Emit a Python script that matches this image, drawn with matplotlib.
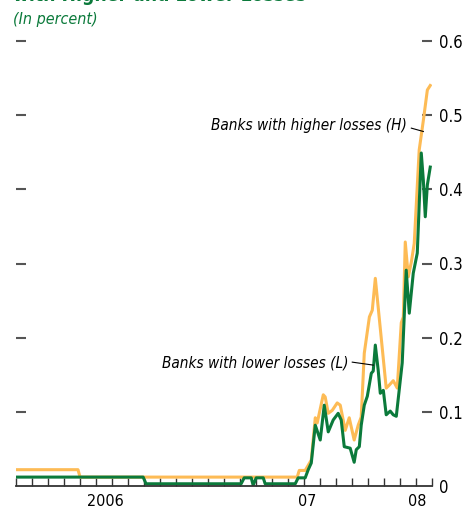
import matplotlib
matplotlib.use("Agg")
import matplotlib.pyplot as plt

plt.rcParams['font.family'] = ['DejaVu Sans']
plt.rcParams['font.stretch'] = 'condensed'

# x is in tick units (one minor tick per step), y in percent
high_x = [0, 3.89, 4.02, 17.58, 17.71, 18.08, 18.27, 18.46, 18.71, 18.83, 19.21, 19.33,
          19.52, 19.77, 20.08, 20.27, 20.58, 20.83, 21.14, 21.39, 21.58, 21.77, 22.09,
          22.27, 22.46, 23.14, 23.33, 23.58, 23.83, 24.08, 24.21, 24.33, 24.52, 24.71,
          24.89, 25.2, 25.46, 25.71, 25.89]
high_y = [0.022, 0.022, 0.012, 0.012, 0.021, 0.021, 0.028, 0.035, 0.092, 0.085, 0.123, 0.120,
          0.098, 0.102, 0.112, 0.109, 0.075, 0.092, 0.062, 0.082, 0.093, 0.179, 0.228,
          0.237, 0.280, 0.132, 0.136, 0.142, 0.132, 0.220, 0.228, 0.329, 0.282, 0.302,
          0.327, 0.453, 0.493, 0.534, 0.540]

low_x = [0, 7.96, 8.14, 14.08, 14.27, 14.71, 14.83, 15.02, 15.46, 15.58, 17.46, 17.64,
         18.08, 18.27, 18.46, 18.71, 19.02, 19.27, 19.52, 19.83, 20.14, 20.33, 20.52,
         20.89, 21.14, 21.27, 21.46, 21.58, 21.77, 21.96, 22.21, 22.33, 22.46, 22.64,
         22.77, 22.96, 23.14, 23.39, 23.58, 23.77, 24.14, 24.39, 24.58, 24.83, 25.08,
         25.33, 25.46, 25.58, 25.71, 25.89]
low_y = [0.012, 0.012, 0.003, 0.003, 0.011, 0.011, 0.001, 0.011, 0.011, 0.003, 0.003, 0.011,
         0.011, 0.022, 0.031, 0.082, 0.062, 0.109, 0.073, 0.089, 0.098, 0.089, 0.053,
         0.051, 0.032, 0.049, 0.053, 0.082, 0.109, 0.121, 0.152, 0.155, 0.190, 0.156,
         0.125, 0.129, 0.096, 0.101, 0.096, 0.094, 0.166, 0.291, 0.233, 0.287, 0.314,
         0.449, 0.412, 0.363, 0.406, 0.430]

year_pos = [5.58, 18.21, 25.08]
year_labels = ["2006", "07", "08"]
y_ticks = [0, 0.1, 0.2, 0.3, 0.4, 0.5, 0.6]

orange = "#FDBB55"
green = "#0B7A3B"
tick_grey = "#555555"

fig = plt.figure(figsize=(4.63, 5.13), dpi=100)
ax = fig.add_axes([15.7 / 463, 27 / 513, (432 - 15.7) / 463, 445 / 513])

ax.plot(high_x, high_y, color=orange, lw=2.2, solid_joinstyle='round')
ax.plot(low_x, low_y, color=green, lw=2.2, solid_joinstyle='round')

ax.set_xlim(0, 26)
ax.set_ylim(0, 0.6)

for s in ['left', 'right', 'top']:
    ax.spines[s].set_visible(False)
ax.spines['bottom'].set_color("#333333")
ax.spines['bottom'].set_linewidth(1.3)

# x axis: minor ticks each step, year labels without ticks
ax.set_xticks(year_pos)
ax.set_xticklabels(year_labels)
ax.set_xticks(range(0, 27), minor=True)
ax.tick_params(axis='x', which='major', length=0, pad=6, labelsize=11.5)
ax.tick_params(axis='x', which='minor', direction='in', length=6, width=1, color="#333333")

# y axis: dashes on both sides, labels right
ax.set_yticks(y_ticks)
ax.set_yticklabels(["0", "0.1", "0.2", "0.3", "0.4", "0.5", "0.6"])
ax.tick_params(axis='y', which='both', left=True, right=True, labelleft=False,
               labelright=True, direction='in', length=7.5, width=1.5,
               color=tick_grey, pad=5, labelsize=12)
ax.yaxis.get_major_ticks()[0].tick1line.set_visible(False)
ax.yaxis.get_major_ticks()[0].tick2line.set_visible(False)

# annotations
ax.text(24.46, 0.4865, "Banks with higher losses (H)", style='italic', fontsize=11,
        ha='right', va='center')
ax.plot([24.71, 25.46], [0.4825, 0.478], color='black', lw=0.8)
ax.text(20.77, 0.166, "Banks with lower losses (L)", style='italic', fontsize=11,
        ha='right', va='center')
ax.plot([21.02, 22.33], [0.167, 0.163], color='black', lw=0.8)

fig.text(13 / 463, 1 - 1 / 513, "with Higher and Lower Losses", color=green,
         fontsize=13.8, fontweight='bold', va='baseline', ha='left')
fig.text(13 / 463, 1 - 24 / 513, "(In percent)", color=green, fontsize=11.5,
         style='italic', va='baseline', ha='left')

fig.savefig("out.png", dpi=100)
